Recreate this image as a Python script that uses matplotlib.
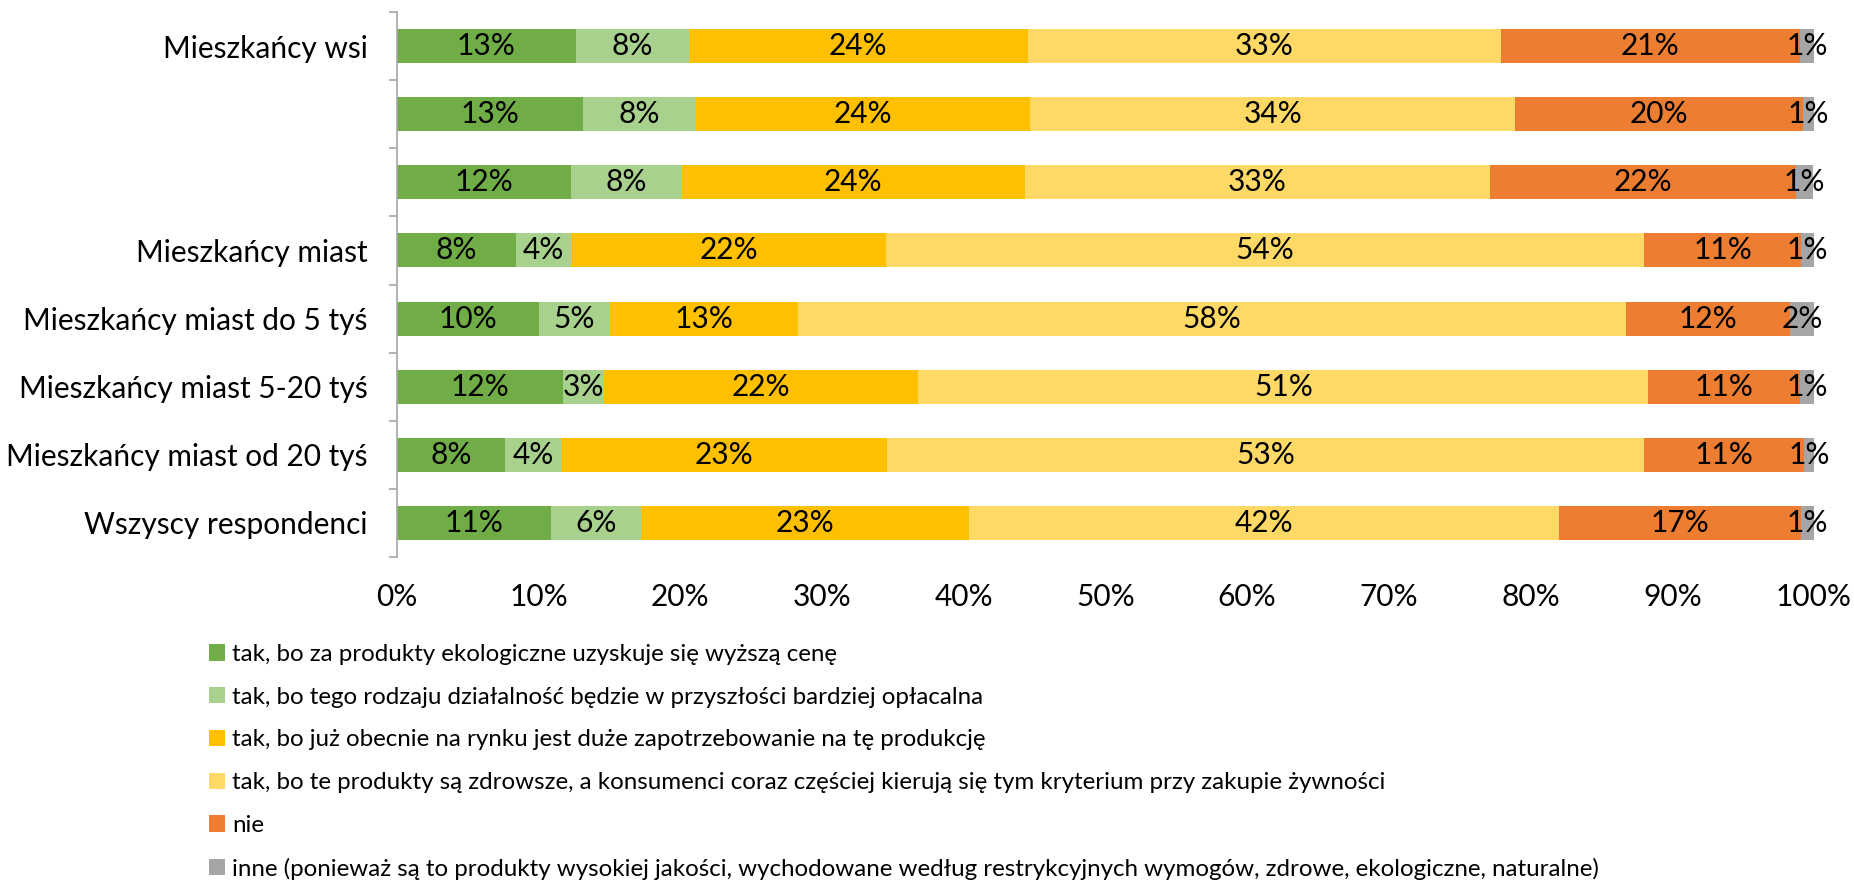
import matplotlib.pyplot as plt
import numpy as np
from matplotlib.ticker import FixedLocator, PercentFormatter

plt.rcParams['font.family'] = ['Lato', 'DejaVu Sans']

# categories from top to bottom
groups = ["Mieszkańcy wsi", "", "", "Mieszkańcy miast",
          "Mieszkańcy miast do 5 tyś", "Mieszkańcy miast 5-20 tyś",
          "Mieszkańcy miast od 20 tyś", "Wszyscy respondenci"]

series_names = [
    "tak, bo za produkty ekologiczne uzyskuje się wyższą cenę",
    "tak, bo tego rodzaju działalność będzie w przyszłości bardziej opłacalna",
    "tak, bo już obecnie na rynku jest duże zapotrzebowanie na tę produkcję",
    "tak, bo te produkty są zdrowsze, a konsumenci coraz częściej kierują się tym kryterium przy zakupie żywności",
    "nie",
    "inne (ponieważ są to produkty wysokiej jakości, wychodowane według restrykcyjnych wymogów, zdrowe, ekologiczne, naturalne)",
]

# shares (%), one list per series, rows top to bottom
cena = [12.6, 13.1, 12.3, 8.4, 10.0, 11.7, 7.6, 10.9]
oplacalna = [8.0, 8.0, 7.8, 3.9, 5.0, 2.9, 4.0, 6.3]
zapotrzeb = [23.9, 23.6, 24.2, 22.2, 13.3, 22.2, 23.0, 23.2]
zdrowsze = [33.4, 34.2, 32.8, 53.5, 58.4, 51.5, 53.4, 41.6]
nie = [21.1, 20.3, 21.6, 11.1, 11.6, 10.7, 11.3, 17.1]
inne = [1.1, 0.8, 1.2, 0.9, 1.7, 1.0, 0.8, 1.0]

# printed data labels
lab_cena = [13, 13, 12, 8, 10, 12, 8, 11]
lab_oplacalna = [8, 8, 8, 4, 5, 3, 4, 6]
lab_zapotrzeb = [24, 24, 24, 22, 13, 22, 23, 23]
lab_zdrowsze = [33, 34, 33, 54, 58, 51, 53, 42]
lab_nie = [21, 20, 22, 11, 12, 11, 11, 17]
lab_inne = [1, 1, 1, 1, 2, 1, 1, 1]

colors = ["#70AD47", "#A9D18E", "#FFC000", "#FFD966", "#ED7D31", "#A5A5A5"]

values = [cena, oplacalna, zapotrzeb, zdrowsze, nie, inne]
labels = [lab_cena, lab_oplacalna, lab_zapotrzeb, lab_zdrowsze, lab_nie, lab_inne]

fig = plt.figure(figsize=(18.54, 8.9), dpi=100)
ax = fig.add_axes([397 / 1854, 1 - 557 / 890, (1814 - 397) / 1854, 545 / 890])

y = np.arange(len(groups))
left = np.zeros(len(groups))
for name, vals, labs, col in zip(series_names, values, labels, colors):
    bars = ax.barh(y, vals, left=left, height=0.5, color=col, label=name)
    ax.bar_label(bars, labels=[f"{v}%" for v in labs], label_type="center",
                 fontsize=21.5, color="black")
    left += np.array(vals)

ax.set_xlim(0, 100)
ax.set_ylim(len(groups) - 0.5, -0.5)
ax.set_yticks(y)
ax.set_yticklabels(groups, fontsize=21.5)
ax.yaxis.set_minor_locator(FixedLocator(np.arange(-0.5, len(groups), 1)))
ax.tick_params(axis="y", which="major", length=0, pad=21)
ax.tick_params(axis="y", which="minor", length=6, color="#A6A6A6", width=1.2)
ax.set_xticks(np.arange(0, 101, 10))
ax.xaxis.set_major_formatter(PercentFormatter(decimals=0))
ax.tick_params(axis="x", length=0, labelsize=21.5, pad=19)

for s in ["top", "right", "bottom"]:
    ax.spines[s].set_visible(False)
ax.spines["left"].set_color("#A6A6A6")
ax.spines["left"].set_linewidth(1.2)

fig.legend(loc="upper left", bbox_to_anchor=(209 / 1854, 1 - 644 / 890),
           ncol=1, frameon=False, fontsize=17.4, handlelength=0.65,
           handleheight=0.65, handletextpad=0.3, labelspacing=0.9,
           borderaxespad=0, borderpad=0)

fig.savefig("out.png", dpi=100)
